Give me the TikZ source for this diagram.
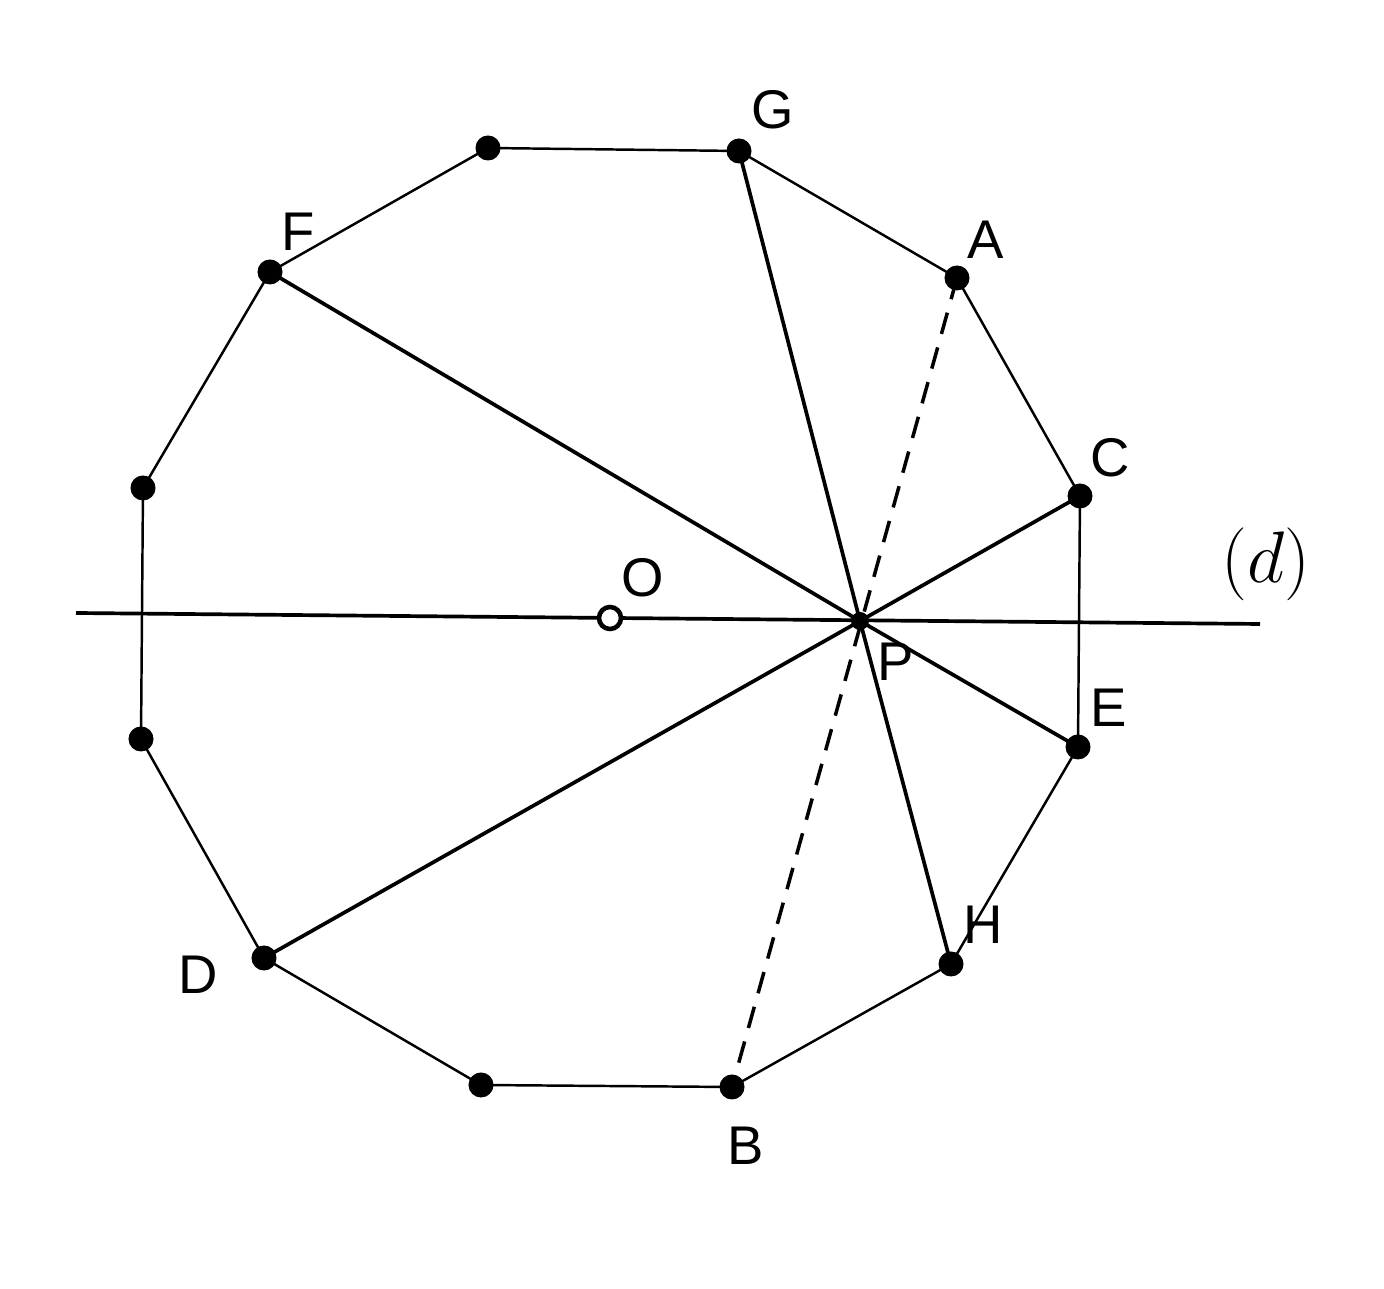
\documentclass[tikz,border=0pt]{standalone}
\usepackage{fontspec}
\setmainfont{Liberation Sans}
\begin{document}
\begin{tikzpicture}[x=0.01cm,y=-0.01cm,
  vdot/.style={circle,fill=black,inner sep=0pt,minimum size=0.25cm},
  pdot/.style={circle,fill=black,inner sep=0pt,minimum size=0.18cm},
  odot/.style={circle,draw=black,line width=1.3pt,fill=white,inner sep=0pt,minimum size=0.22cm},
  lbl/.style={font=\fontsize{15.5}{18}\selectfont,inner sep=0pt},
  edge/.style={line width=0.7pt},
  chord/.style={line width=1.05pt},
  dline/.style={line width=1pt,dash pattern=on 0.22cm off 0.14cm}]
\useasboundingbox (0,0) rectangle (1384,1289);
% vertices
\coordinate (G) at (739,151);
\coordinate (V1) at (488,148);
\coordinate (F) at (270,272);
\coordinate (V2) at (143,488);
\coordinate (V3) at (141,739);
\coordinate (D) at (264,958);
\coordinate (V4) at (481,1085);
\coordinate (B) at (732,1087);
\coordinate (H) at (951,964);
\coordinate (E) at (1078,747);
\coordinate (C) at (1080,496);
\coordinate (A) at (957,278);
\coordinate (P) at (860,621);
\coordinate (O) at (610,618);
\coordinate (d1) at (76,613);
\coordinate (d2) at (1260,624);
% polygon
\draw[edge] (G) -- (V1) -- (F) -- (V2) -- (V3) -- (D) -- (V4) -- (B) -- (H) -- (E) -- (C) -- (A) -- cycle;
% line d
\draw[chord] (d1) -- (d2);
% chords
\foreach \v in {F,G,C,E,H,D} \draw[chord] (P) -- (\v);
\draw[dline] (A) -- (B);
% dots
\foreach \v in {G,V1,F,V2,V3,D,V4,B,H,E,C,A} \node[vdot] at (\v) {};
\node[pdot] (Pd) at (P) {};
\node[odot] (Od) at (O) {};
% labels
\node[lbl] (lG) at (773,110) {G};
\node[lbl] (lF) at (298,232) {F};
\node[lbl] (lA) at (986,240) {A};
\node[lbl] (lC) at (1110,458) {C};
\node[lbl] (lO) at (643,578) {O};
\node[lbl] (lP) at (896,662) {P};
\node[lbl] (lE) at (1109,708) {E};
\node[lbl] (lH) at (983,925) {H};
\node[lbl] (lD) at (198,975) {D};
\node[lbl] (lB) at (746,1146) {B};
\node[inner sep=0pt] (ld) at (1266,564) {\fontsize{20.5}{24}\selectfont$(d)$};
\end{tikzpicture}
\end{document}
